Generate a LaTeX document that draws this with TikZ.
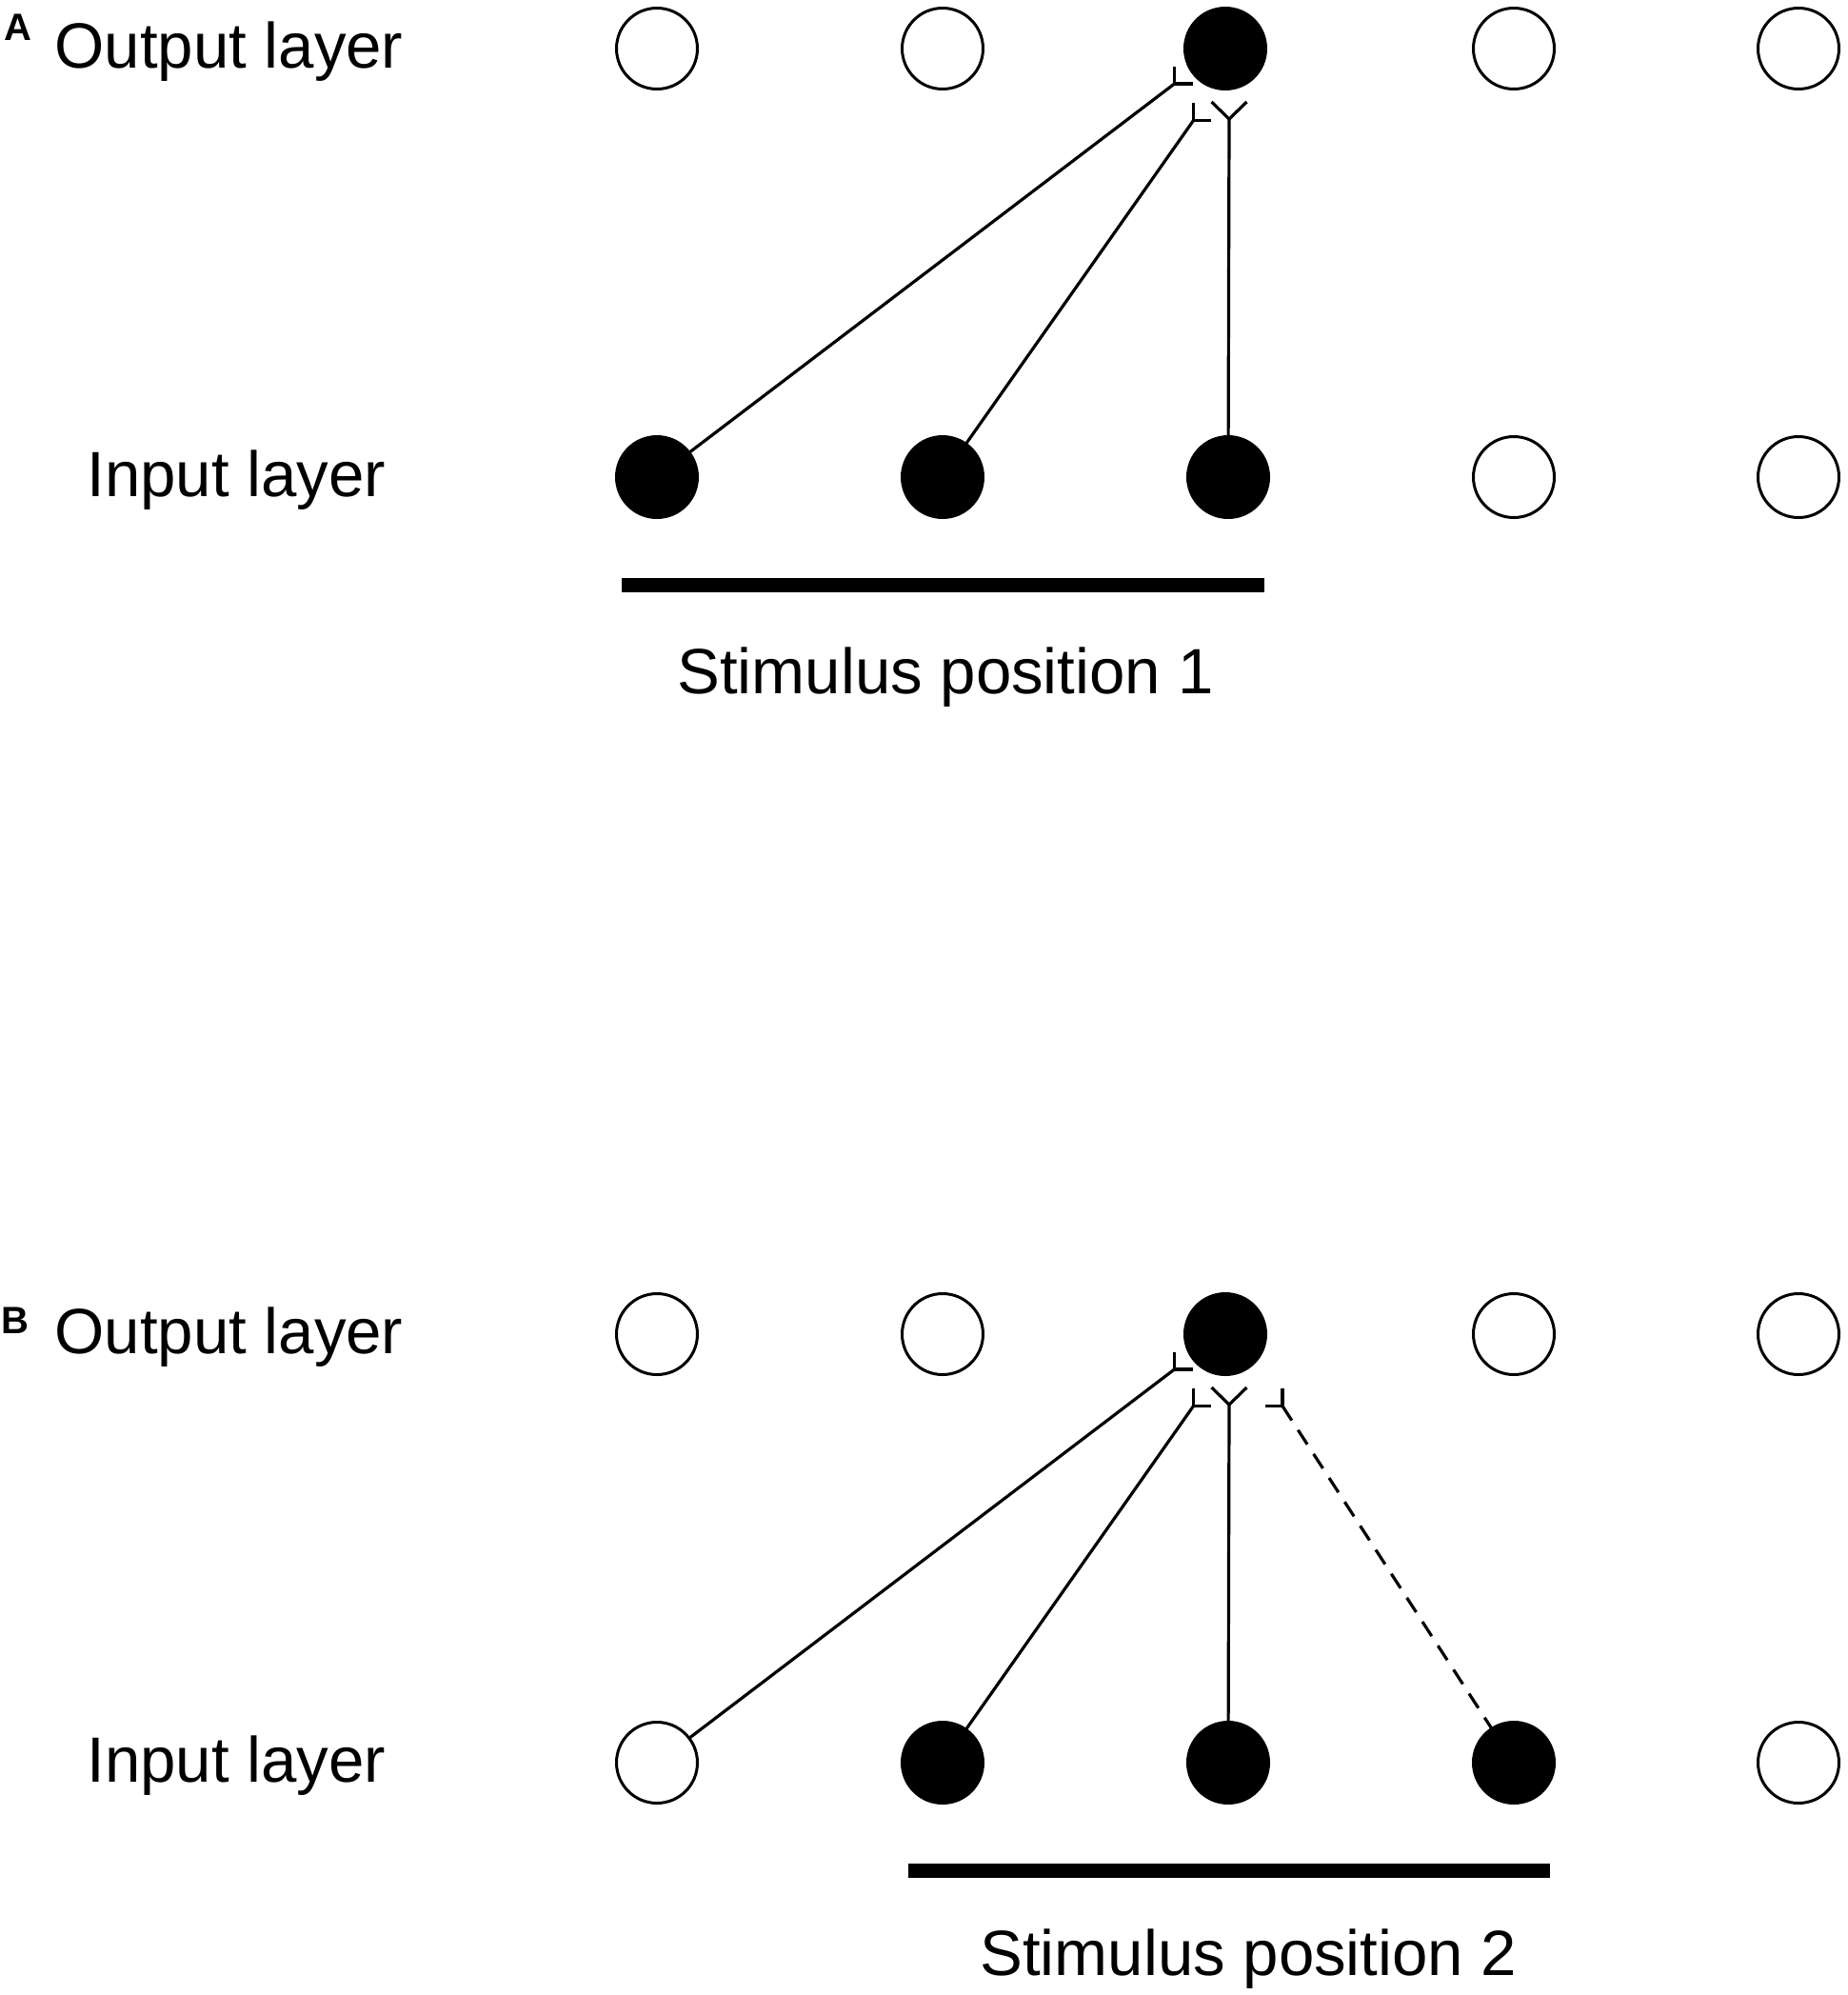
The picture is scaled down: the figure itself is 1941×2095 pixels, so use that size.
\documentclass[tikz,border=0pt]{standalone}
\usepackage{fontspec}
\setmainfont{Liberation Sans}
\begin{document}
\begin{tikzpicture}[x=0.5pt,y=-0.5pt,
  neuron/.style={circle,draw=black,line width=1.5pt,minimum size=42.5pt,inner sep=0pt,outer sep=0pt,fill=white},
  active/.style={neuron,fill=black},
  conn/.style={line width=1.6pt},
  syn/.style={line width=1.6pt},
  weak/.style={line width=1.6pt,dash pattern=on 9pt off 6pt},
  stim/.style={line width=7.5pt},
  lbl/.style={anchor=base west,inner sep=0pt,font=\fontsize{33.6pt}{40pt}\selectfont},
  panel/.style={anchor=base west,inner sep=0pt,font=\fontsize{20pt}{22pt}\selectfont\bfseries}]
\useasboundingbox (0,0) rectangle (1941,2095);

% ---------- Panel A ----------
\node[panel] (pA) at (4,42) {A};
\node[lbl] (outA) at (57,71) {Output layer};
\node[lbl] (inA) at (91,521) {Input layer};

\node[neuron] (oA1) at (690,51) {};
\node[neuron] (oA2) at (990,51) {};
\node[active] (oA3) at (1287,51) {};
\node[neuron] (oA4) at (1590,51) {};
\node[neuron] (oA5) at (1889,51) {};

\node[active] (iA1) at (690,501) {};
\node[active] (iA2) at (990,501) {};
\node[active] (iA3) at (1290,501) {};
\node[neuron] (iA4) at (1590,501) {};
\node[neuron] (iA5) at (1889,501) {};

\coordinate (sA1) at (1233.5,88);
\coordinate (sA1u) at (1233.5,70);
\coordinate (sA1r) at (1253,88);
\coordinate (sA2) at (1253.5,126.5);
\coordinate (sA2u) at (1253.5,108);
\coordinate (sA2r) at (1272,126.5);
\coordinate (sA3) at (1291,125);
\coordinate (sA3l) at (1272.5,107);
\coordinate (sA3r) at (1309.5,107);

\draw[syn] (sA1u) -- (sA1) -- (sA1r);
\draw[syn] (sA2u) -- (sA2) -- (sA2r);
\draw[syn] (sA3l) -- (sA3) -- (sA3r);
\draw[conn] (sA1) -- (iA1);
\draw[conn] (sA2) -- (iA2);
\draw[conn] (sA3) -- (iA3);

\coordinate (barA1) at (653,614.5);
\coordinate (barA2) at (1328,614.5);
\draw[stim] (barA1) -- (barA2);
\node[lbl] (stA) at (711,728) {Stimulus position 1};

% ---------- Panel B ----------
\node[panel] (pB) at (1,1400) {B};
\node[lbl] (outB) at (57,1421) {Output layer};
\node[lbl] (inB) at (91,1871) {Input layer};

\node[neuron] (oB1) at (690,1401) {};
\node[neuron] (oB2) at (990,1401) {};
\node[active] (oB3) at (1287,1401) {};
\node[neuron] (oB4) at (1590,1401) {};
\node[neuron] (oB5) at (1889,1401) {};

\node[neuron] (iB1) at (690,1851) {};
\node[active] (iB2) at (990,1851) {};
\node[active] (iB3) at (1290,1851) {};
\node[active] (iB4) at (1590,1851) {};
\node[neuron] (iB5) at (1889,1851) {};

\coordinate (sB1) at (1233.5,1438);
\coordinate (sB1u) at (1233.5,1420);
\coordinate (sB1r) at (1253,1438);
\coordinate (sB2) at (1253.5,1476.5);
\coordinate (sB2u) at (1253.5,1458);
\coordinate (sB2r) at (1272,1476.5);
\coordinate (sB3) at (1291,1475);
\coordinate (sB3l) at (1272.5,1457);
\coordinate (sB3r) at (1309.5,1457);
\coordinate (sB4) at (1347,1476.5);
\coordinate (sB4u) at (1347,1458);
\coordinate (sB4l) at (1328.5,1476.5);

\draw[syn] (sB1u) -- (sB1) -- (sB1r);
\draw[syn] (sB2u) -- (sB2) -- (sB2r);
\draw[syn] (sB3l) -- (sB3) -- (sB3r);
\draw[syn] (sB4u) -- (sB4) -- (sB4l);
\draw[conn] (sB1) -- (iB1);
\draw[conn] (sB2) -- (iB2);
\draw[conn] (sB3) -- (iB3);
\draw[weak] (sB4) -- (iB4);

\coordinate (barB1) at (954,1964);
\coordinate (barB2) at (1628,1964);
\draw[stim] (barB1) -- (barB2);
\node[lbl] (stB) at (1029,2074) {Stimulus position 2};
\end{tikzpicture}
\end{document}
